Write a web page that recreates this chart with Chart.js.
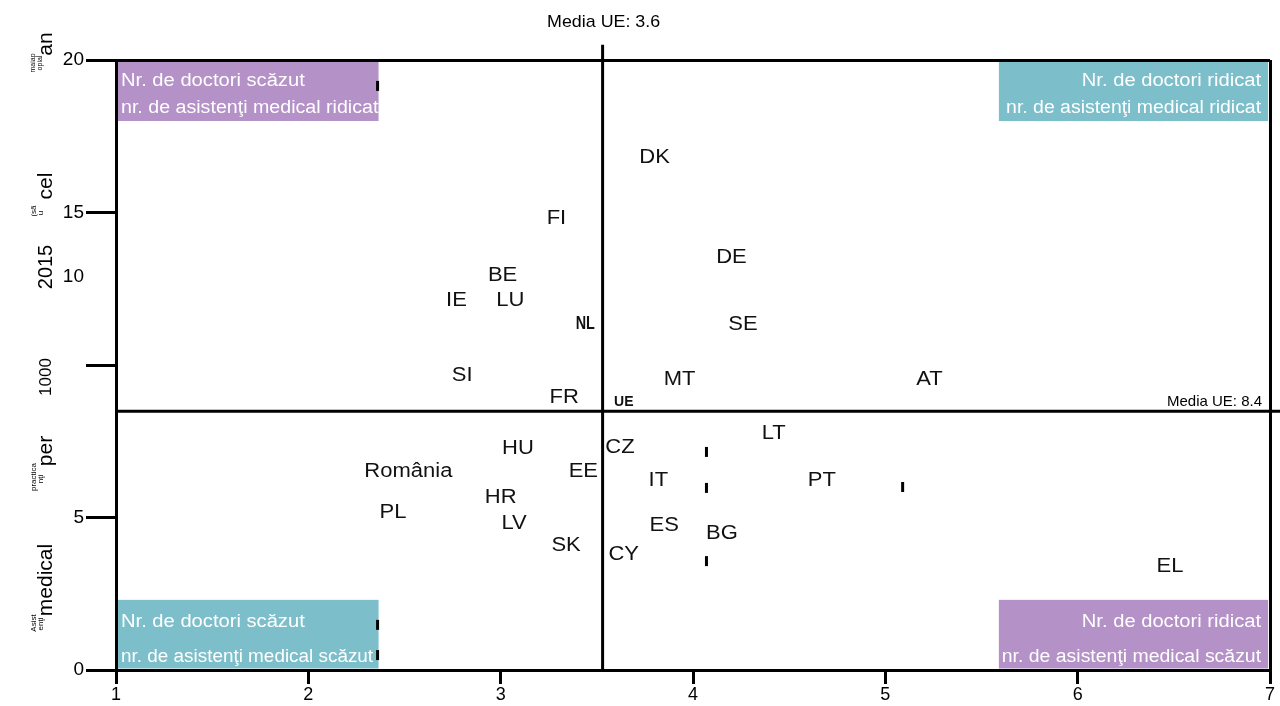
<!DOCTYPE html>
<html>
<head>
<meta charset="utf-8">
<script src="https://cdn.jsdelivr.net/npm/chart.js@4.4.1/dist/chart.umd.min.js"></script>
<style>
  html, body { margin: 0; padding: 0; background: #fff; }
  #wrap { width: 1280px; height: 706px; position: relative; }
</style>
</head>
<body>
<div id="wrap"><canvas id="c"></canvas></div>
<script>
// ---- data ----
const countries = ['DK','FI','DE','BE','IE','LU','NL','SE','SI','MT','AT','FR','UE','LT','HU','CZ','România','EE','IT','PT','HR','PL','LV','ES','BG','SK','CY','EL'];
const doctors   = [3.80,3.29,4.20,3.01,2.77,3.05,3.44,4.26,2.80,3.93,5.23,3.33,3.64,4.42,3.09,3.62,2.52,3.43,3.82,4.67,3.00,2.44,3.07,3.85,4.15,3.34,3.64,6.48];
const nurses    = [16.82,14.82,13.51,12.95,12.13,12.13,11.34,11.34,9.67,9.51,9.51,8.92,8.79,7.77,7.25,7.31,6.52,6.52,6.23,6.23,5.67,5.15,4.79,4.75,4.46,4.07,3.80,3.38];

const meanDoctors = 3.53;       // vertical reference line (labelled 3.6)
const meanNurses  = 8.48;       // horizontal reference line (labelled 8.4)
const meanDoctorsLabel = 'Media UE: 3.6';
const meanNursesLabel  = 'Media UE: 8.4';

const xTicks = [1,2,3,4,5,6,7];
const yTicks = [0,5,10,15,20];
const yTickLabels = ['0','5','','15','20'];
const yLabel10 = '10';
const yLabel10At = 12.9;

// stray marks visible in the original picture
const markX = [2.36,2.36,2.36,4.07,4.07,4.07,5.09];
const markY = [19.15,1.48,0.49,7.15,5.97,3.57,6.0];

// quadrant boxes
const quadNames = ['tl','tr','bl','br'];
const quadX0 = [1.0, 5.58, 1.0, 5.58];
const quadX1 = [2.365, 6.99, 2.365, 6.99];
const quadY0 = [18.0, 18.0, 0.05, 0.05];
const quadY1 = [19.95, 19.95, 2.3, 2.3];
const quadText = [
  ['Nr. de doctori scăzut','nr. de asistenţi medical ridicat'],
  ['Nr. de doctori ridicat','nr. de asistenţi medical ridicat'],
  ['Nr. de doctori scăzut','nr. de asistenţi medical scăzut'],
  ['Nr. de doctori ridicat','nr. de asistenţi medical scăzut']
];

const FONT = '"Liberation Sans", Arial, "DejaVu Sans", sans-serif';
const PURPLE = '#b491c6';
const TEAL = '#7cbfcb';
const LINE2_STRETCH = [1.09, 1.08, 1.05, 1.08];

// draw text with a horizontal stretch
function sText(ctx, text, x, y, font, stretch, align, baseline) {
  ctx.save();
  ctx.font = font;
  ctx.textAlign = align;
  ctx.textBaseline = baseline;
  ctx.translate(x, y);
  ctx.scale(stretch, 1);
  ctx.fillText(text, 0, 0);
  ctx.restore();
}

const decorPlugin = {
  id: 'decor',
  beforeDraw(chart) {
    const ctx = chart.ctx, xs = chart.scales.x, ys = chart.scales.y;
    ctx.save();
    for (let i = 0; i < quadNames.length; i++) {
      const left = xs.getPixelForValue(quadX0[i]) + 2;
      const right = xs.getPixelForValue(quadX1[i]);
      const top = ys.getPixelForValue(quadY1[i]);
      const bottom = ys.getPixelForValue(quadY0[i]);
      ctx.fillStyle = (i === 0 || i === 3) ? PURPLE : TEAL;
      ctx.fillRect(left, top, right - left, bottom - top);
      ctx.fillStyle = '#fff';
      const rightAligned = (i === 1 || i === 3);
      const tx = rightAligned ? right - 7 : left + 3;
      const h = bottom - top;
      const l1 = top + h * 0.33, l2 = top + h * (i < 2 ? 0.78 : 0.84);
      const al = rightAligned ? 'right' : 'left';
      sText(ctx, quadText[i][0], tx, l1, '18px ' + FONT, 1.12, al, 'middle');
      sText(ctx, quadText[i][1], tx, l2, '18px ' + FONT, LINE2_STRETCH[i], al, 'middle');
    }
    ctx.restore();
  },
  afterDatasetsDraw(chart) {
    const ctx = chart.ctx, xs = chart.scales.x, ys = chart.scales.y;
    ctx.save();
    ctx.fillStyle = '#111';
    const meta = chart.getDatasetMeta(0);
    meta.data.forEach((pt, i) => {
      const name = countries[i];
      if (name === 'UE') sText(ctx, name, pt.x, pt.y, 'bold 14px ' + FONT, 1.0, 'center', 'middle');
      else if (name === 'NL') sText(ctx, name, pt.x, pt.y, 'bold 18px ' + FONT, 0.8, 'center', 'middle');
      else sText(ctx, name, pt.x, pt.y, '20px ' + FONT, 1.1, 'center', 'middle');
    });
    ctx.fillStyle = '#000';
    sText(ctx, meanDoctorsLabel, xs.getPixelForValue(meanDoctors) + 1, 22, '17px ' + FONT, 1.05, 'center', 'middle');
    sText(ctx, meanNursesLabel, xs.right - 8, ys.getPixelForValue(meanNurses) - 2, '15px ' + FONT, 1.0, 'right', 'bottom');
    sText(ctx, yLabel10, 84, ys.getPixelForValue(yLabel10At), '19px ' + FONT, 1.0, 'right', 'middle');
    // garbled rotated y-axis title fragments
    const frag = (text, x, y, size) => {
      ctx.save();
      ctx.translate(x, y);
      ctx.rotate(-Math.PI / 2);
      ctx.font = size + 'px ' + FONT;
      ctx.textAlign = 'center';
      ctx.textBaseline = 'middle';
      ctx.fillText(text, 0, 0);
      ctx.restore();
    };
    frag('an', 46, 44, 21);
    frag('maiap', 33, 63, 7); frag('opial', 40, 63, 7);
    frag('cel', 46, 186, 21);
    frag('(sã', 34, 211, 8); frag('u', 41, 213, 8);
    frag('2015', 46, 267, 20);
    frag('1000', 46, 377, 17);
    frag('per', 46, 451, 21);
    frag('practica', 34, 477, 8); frag('nţi', 41, 479, 8);
    frag('medical', 46, 580, 21);
    frag('Asist', 34, 623, 8); frag('enţi', 41, 624, 8);
    ctx.restore();
  }
};

new Chart(document.getElementById('c'), {
  type: 'scatter',
  data: {
    datasets: [
      {
        label: 'countries',
        data: countries.map((c, i) => ({ x: doctors[i], y: nurses[i] })),
        pointRadius: 0, pointHoverRadius: 0
      },
      {
        label: 'marks',
        data: markX.map((x, i) => ({ x, y: markY[i] })),
        pointStyle: 'line', rotation: 90, pointRadius: 5,
        borderColor: '#000', borderWidth: 3, backgroundColor: '#000'
      },
      {
        label: 'meanX',
        data: [{ x: meanDoctors, y: 0 }, { x: meanDoctors, y: 20.5 }],
        showLine: true, borderColor: '#000', borderWidth: 3, pointRadius: 0, clip: false
      },
      {
        label: 'meanY',
        data: [{ x: 1, y: meanNurses }, { x: 7.06, y: meanNurses }],
        showLine: true, borderColor: '#000', borderWidth: 3, pointRadius: 0, clip: false
      }
    ]
  },
  options: {
    responsive: true,
    maintainAspectRatio: false,
    animation: false,
    events: [],
    layout: { padding: { top: 60, right: 10, left: 0, bottom: 0 } },
    plugins: { legend: { display: false }, tooltip: { enabled: false } },
    scales: {
      x: {
        type: 'linear', min: 1, max: 7,
        afterBuildTicks: (s) => { s.ticks = xTicks.map(v => ({ value: v })); },
        ticks: { color: '#000', font: { size: 18, family: FONT }, padding: 0, maxRotation: 0 },
        grid: {
          drawOnChartArea: true,
          color: (c) => (c.tick && c.tick.value === 7) ? '#000' : 'rgba(0,0,0,0)',
          tickColor: '#000', lineWidth: 3, tickLength: 14
        },
        border: { display: true, color: '#000', width: 3 },
        afterFit: (s) => { s.height = 36; }
      },
      y: {
        type: 'linear', min: 0, max: 20,
        afterBuildTicks: (s) => { s.ticks = yTicks.map(v => ({ value: v })); },
        ticks: {
          color: '#000', font: { size: 19, family: FONT }, padding: 2,
          callback: (v) => yTickLabels[yTicks.indexOf(v)]
        },
        grid: {
          drawOnChartArea: true,
          color: (c) => (c.tick && c.tick.value === 20) ? '#000' : 'rgba(0,0,0,0)',
          tickColor: '#000', lineWidth: 3, tickLength: 30
        },
        border: { display: true, color: '#000', width: 3 },
        afterFit: (s) => { s.width = 116; }
      }
    }
  },
  plugins: [decorPlugin]
});
</script>
</body>
</html>
